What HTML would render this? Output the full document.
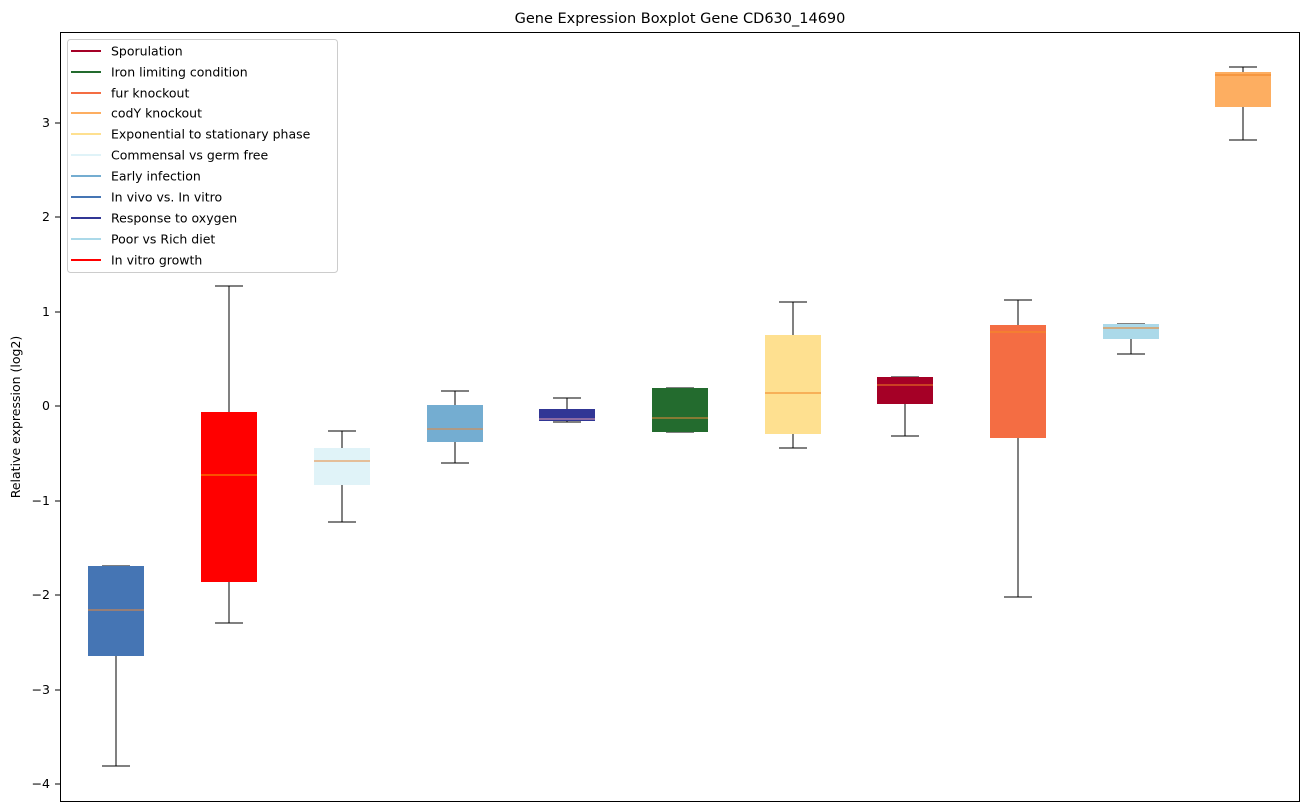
<!DOCTYPE html>
<html><head><meta charset="utf-8"><style>body{margin:0;background:#fff}svg{display:block;font-family:"DejaVu Sans","Liberation Sans",sans-serif}</style></head><body>
<svg width="1309" height="812" xmlns="http://www.w3.org/2000/svg">
<text x="680" y="23" font-size="14.5" text-anchor="middle">Gene Expression Boxplot Gene CD630_14690</text>
<g font-size="12.5" text-anchor="end" shape-rendering="crispEdges">
<line x1="55" x2="60" y1="123" y2="123" stroke="#000"/><text x="50" y="127">3</text>
<line x1="55" x2="60" y1="217" y2="217" stroke="#000"/><text x="50" y="221">2</text>
<line x1="55" x2="60" y1="312" y2="312" stroke="#000"/><text x="50" y="316">1</text>
<line x1="55" x2="60" y1="406" y2="406" stroke="#000"/><text x="50" y="410">0</text>
<line x1="55" x2="60" y1="501" y2="501" stroke="#000"/><text x="50" y="505">−1</text>
<line x1="55" x2="60" y1="595" y2="595" stroke="#000"/><text x="50" y="599">−2</text>
<line x1="55" x2="60" y1="690" y2="690" stroke="#000"/><text x="50" y="694">−3</text>
<line x1="55" x2="60" y1="784" y2="784" stroke="#000"/><text x="50" y="788">−4</text>
</g>
<text transform="translate(20,417) rotate(-90)" font-size="12.5" text-anchor="middle">Relative expression (log2)</text>
<g stroke="#000" stroke-width="1" shape-rendering="crispEdges">
<line x1="116" x2="116" y1="656" y2="766"/><line x1="102" x2="130" y1="766" y2="766"/><line x1="102" x2="130" y1="566" y2="566"/>
<line x1="229" x2="229" y1="582" y2="623"/><line x1="229" x2="229" y1="286" y2="412"/><line x1="215" x2="243" y1="623" y2="623"/><line x1="215" x2="243" y1="286" y2="286"/>
<line x1="342" x2="342" y1="485" y2="522"/><line x1="342" x2="342" y1="431" y2="448"/><line x1="328" x2="356" y1="522" y2="522"/><line x1="328" x2="356" y1="431" y2="431"/>
<line x1="455" x2="455" y1="442" y2="463"/><line x1="455" x2="455" y1="391" y2="405"/><line x1="441" x2="469" y1="463" y2="463"/><line x1="441" x2="469" y1="391" y2="391"/>
<line x1="567" x2="567" y1="398" y2="422"/><line x1="553" x2="581" y1="422" y2="422"/><line x1="553" x2="581" y1="398" y2="398"/>
<line x1="666" x2="694" y1="432" y2="432"/><line x1="666" x2="694" y1="388" y2="388"/>
<line x1="793" x2="793" y1="434" y2="448"/><line x1="793" x2="793" y1="302" y2="335"/><line x1="779" x2="807" y1="448" y2="448"/><line x1="779" x2="807" y1="302" y2="302"/>
<line x1="905" x2="905" y1="404" y2="436"/><line x1="891" x2="919" y1="436" y2="436"/><line x1="891" x2="919" y1="377" y2="377"/>
<line x1="1018" x2="1018" y1="438" y2="597"/><line x1="1018" x2="1018" y1="300" y2="325"/><line x1="1004" x2="1032" y1="597" y2="597"/><line x1="1004" x2="1032" y1="300" y2="300"/>
<line x1="1131" x2="1131" y1="339" y2="354"/><line x1="1117" x2="1145" y1="354" y2="354"/><line x1="1117" x2="1145" y1="324" y2="324"/>
<line x1="1243" x2="1243" y1="107" y2="140"/><line x1="1243" x2="1243" y1="67" y2="72"/><line x1="1229" x2="1257" y1="140" y2="140"/><line x1="1229" x2="1257" y1="67" y2="67"/>
</g>
<g>
<rect x="88" y="566" width="56" height="90" fill="#4575b4"/><line x1="88" x2="144" y1="610" y2="610" stroke="#e8883a"/>
<rect x="201" y="412" width="56" height="170" fill="#ff0000"/><line x1="201" x2="257" y1="475" y2="475" stroke="#f5a000"/>
<rect x="314" y="448" width="56" height="37" fill="#e0f3f8"/><line x1="314" x2="370" y1="461" y2="461" stroke="#e8883a"/>
<rect x="427" y="405" width="56" height="37" fill="#74add1"/><line x1="427" x2="483" y1="429" y2="429" stroke="#e8883a"/>
<rect x="539" y="409" width="56" height="12" fill="#313695"/><line x1="539" x2="595" y1="419" y2="419" stroke="#e8a0b0"/>
<rect x="652" y="388" width="56" height="44" fill="#236b2e"/><line x1="652" x2="708" y1="418" y2="418" stroke="#e8883a"/>
<rect x="765" y="335" width="56" height="99" fill="#fee090"/><line x1="765" x2="821" y1="393" y2="393" stroke="#f08020"/>
<rect x="877" y="377" width="56" height="27" fill="#a50026"/><line x1="877" x2="933" y1="385" y2="385" stroke="#f08020"/>
<rect x="990" y="325" width="56" height="113" fill="#f46d43"/><line x1="990" x2="1046" y1="332" y2="332" stroke="#f59020"/>
<rect x="1103" y="324" width="56" height="15" fill="#abd9e9"/><line x1="1103" x2="1159" y1="328" y2="328" stroke="#f08020"/>
<rect x="1215" y="72" width="56" height="35" fill="#fdae61"/><line x1="1215" x2="1271" y1="75" y2="75" stroke="#f08020"/>
</g>
<rect x="60.5" y="32.5" width="1239" height="769" fill="none" stroke="#000"/>
<rect x="67.5" y="39.5" width="270" height="233" rx="3" fill="#fff" fill-opacity="0.8" stroke="#ccc"/>
<g font-size="12.5" stroke-width="2">
<line x1="71" x2="101" y1="51" y2="51" stroke="#a50026"/><text x="111" y="55.5">Sporulation</text>
<line x1="71" x2="101" y1="72" y2="72" stroke="#236b2e"/><text x="111" y="76.5">Iron limiting condition</text>
<line x1="71" x2="101" y1="93" y2="93" stroke="#f46d43"/><text x="111" y="97.5">fur knockout</text>
<line x1="71" x2="101" y1="113" y2="113" stroke="#fdae61"/><text x="111" y="117.5">codY knockout</text>
<line x1="71" x2="101" y1="134" y2="134" stroke="#fee090"/><text x="111" y="138.5">Exponential to stationary phase</text>
<line x1="71" x2="101" y1="155" y2="155" stroke="#e0f3f8"/><text x="111" y="159.5">Commensal vs germ free</text>
<line x1="71" x2="101" y1="176" y2="176" stroke="#74add1"/><text x="111" y="180.5">Early infection</text>
<line x1="71" x2="101" y1="197" y2="197" stroke="#4575b4"/><text x="111" y="201.5">In vivo vs. In vitro</text>
<line x1="71" x2="101" y1="218" y2="218" stroke="#313695"/><text x="111" y="222.5">Response to oxygen</text>
<line x1="71" x2="101" y1="239" y2="239" stroke="#abd9e9"/><text x="111" y="243.5">Poor vs Rich diet</text>
<line x1="71" x2="101" y1="260" y2="260" stroke="#ff0000"/><text x="111" y="264.5">In vitro growth</text>
</g>
</svg>
</body></html>
